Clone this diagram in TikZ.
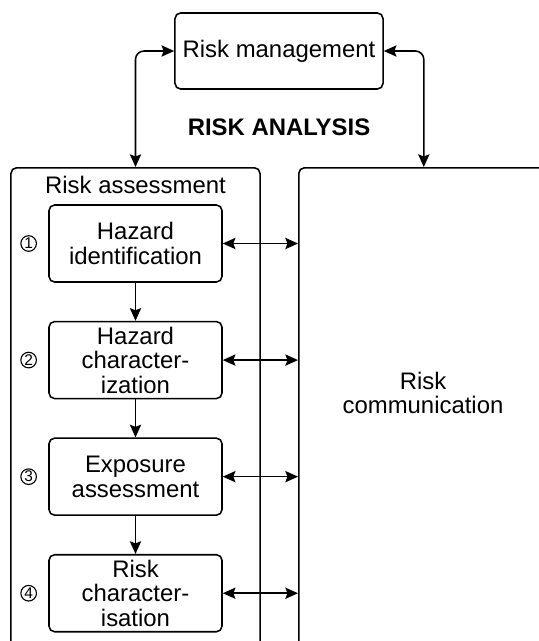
\documentclass[tikz,border=0pt]{standalone}
\usepackage{fontspec}
\setmainfont{Liberation Sans}
\usetikzlibrary{positioning,arrows.meta}
\tikzstyle{panel} = [draw, rounded corners=4pt, line width=1.1pt, minimum height=15cm]
\tikzstyle{stage} = [draw, rounded corners=4pt, line width=1.1pt, align=center, minimum width=4.325cm, minimum height=1.925cm, inner sep=1pt]
\tikzstyle{num} = [draw, circle, line width=0.8pt, minimum size=0.39cm, inner sep=0pt, font=\fontsize{11}{11}\selectfont]
\tikzstyle{arrow} = [line width=1.1pt,-{Stealth[length=9pt,width=8pt,inset=1.5pt]}]
\tikzstyle{biarrow} = [line width=1.1pt,{Stealth[length=9pt,width=8pt,inset=1.5pt]}-{Stealth[length=9pt,width=8pt,inset=1.5pt]}]

\begin{document}
\begin{tikzpicture}[x=0.025cm,y=-0.025cm,font=\fontsize{17}{17.5}\selectfont]
	\useasboundingbox (0,0) rectangle (539,641);
	\clip (0,0) rectangle (539,641);
	% outer panels, cut off at the bottom
	\node[panel, minimum width=6.225cm, anchor=north] (assess) at (135.5,167) {};
	\node (assesslabel) at (135.5,185) {Risk assessment};
	\node[panel, minimum width=6.25cm, anchor=north west] (comm) at (298,167) {};
	\node[align=center] (commlabel) at (423,393) {Risk\\communication};
	\node[draw, rounded corners=4pt, line width=1.1pt, minimum width=5.2cm, minimum height=1.9cm] (mgmt) at (279,51) {Risk management};
	\node[font=\fontsize{17}{17.5}\selectfont\bfseries] (analysis) at (279,127) {RISK ANALYSIS};
	% steps
	\node[stage] (s1) at (135.5,243.5) {Hazard\\identification};
	\node[stage, below=0.95cm of s1] (s2) {Hazard\\character-\\ization};
	\node[stage, below=0.95cm of s2] (s3) {Exposure\\assessment};
	\node[stage, below=0.95cm of s3] (s4) {Risk\\character-\\isation};
	\foreach \i in {1,...,4} {
		\node[num, left=0.28cm of s\i] (n\i) {\i};
		\draw[biarrow] (s\i.east) -- (s\i.east -| comm.west);
	}
	\foreach \a/\b in {s1/s2,s2/s3,s3/s4}
	\draw[arrow] (\a) -- (\b);
	\draw[biarrow, rounded corners=6pt] (assess.north) |- (mgmt.west);
	\draw[biarrow, rounded corners=6pt] (comm.north) |- (mgmt.east);
\end{tikzpicture}
\end{document}
